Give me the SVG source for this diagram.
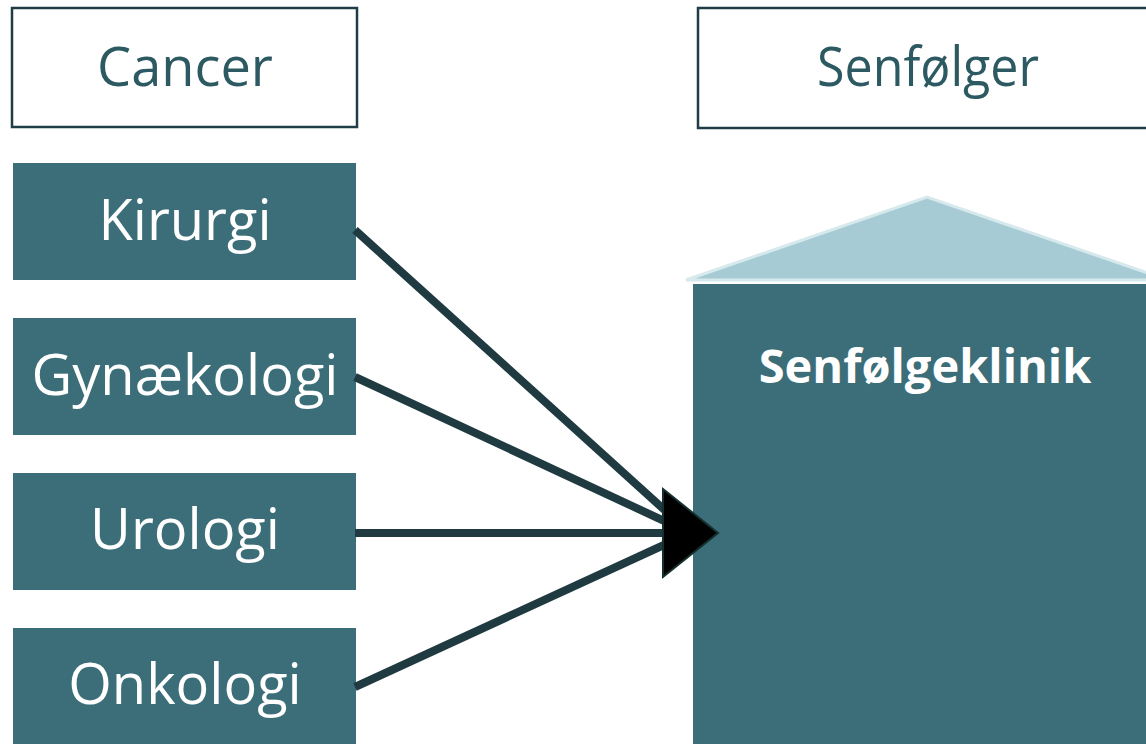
<svg xmlns="http://www.w3.org/2000/svg" width="1146" height="744" viewBox="0 0 1146 744">
<style>
.hdr{fill:#ffffff;stroke:#1f3d44;stroke-width:2.5}
.hdrt{font-family:"Open Sans","Liberation Sans",sans-serif;font-size:54px;fill:#2d5a62;text-anchor:middle}
.box{fill:#3b6e78}
.boxt{font-family:"Open Sans","Liberation Sans",sans-serif;font-size:56px;fill:#ffffff;text-anchor:middle}
.conn{stroke:#1f3a40;stroke-width:8;fill:none}
</style>
<rect width="1146" height="744" fill="#ffffff"/>
<g id="cancer"><rect class="hdr" x="12" y="8" width="345" height="119"/><text class="hdrt" x="185" y="86" textLength="176" lengthAdjust="spacingAndGlyphs">Cancer</text></g>
<g id="senfolger"><rect class="hdr" x="698" y="8" width="460" height="120"/><text class="hdrt" x="928" y="86" textLength="222" lengthAdjust="spacingAndGlyphs">Senfølger</text></g>
<g id="kirurgi"><rect class="box" x="13" y="163" width="343" height="117"/><text class="boxt" x="185" y="240">Kirurgi</text></g>
<g id="gynaekologi"><rect class="box" x="13" y="318" width="343" height="117"/><text class="boxt" x="185" y="395">Gynækologi</text></g>
<g id="urologi"><rect class="box" x="13" y="473" width="343" height="117"/><text class="boxt" x="185" y="549">Urologi</text></g>
<g id="onkologi"><rect class="box" x="13" y="628" width="343" height="117"/><text class="boxt" x="185" y="704">Onkologi</text></g>
<g id="senfolgeklinik">
<polygon points="686,280 927,197 1168,280" fill="#a6cbd4" stroke="#d6e9ed" stroke-width="3"/>
<rect class="box" x="693" y="284" width="460" height="470"/>
<text x="925" y="383" font-family="'Open Sans','Liberation Sans',sans-serif" font-weight="bold" font-size="47" fill="#ffffff" text-anchor="middle">Senfølgeklinik</text>
</g>
<g id="connectors">
<line class="conn" x1="355" y1="230" x2="690" y2="533"/>
<line class="conn" x1="355" y1="377" x2="690" y2="533"/>
<line class="conn" x1="355" y1="533" x2="690" y2="533"/>
<line class="conn" x1="355" y1="687" x2="690" y2="533"/>
<polygon points="663,489 718,533 663,577" fill="#000000" stroke="#16302f" stroke-width="2"/>
</g>
</svg>
